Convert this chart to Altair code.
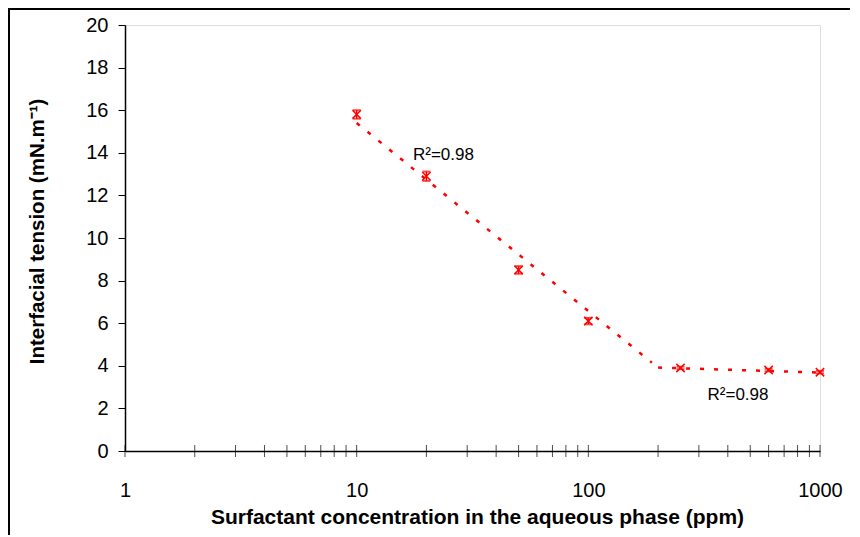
import altair as alt
import pandas as pd

# ---- data ----
conc = [10, 20, 50, 100, 250, 600, 1000]
ift = [15.8, 12.9, 8.5, 6.1, 3.9, 3.8, 3.7]
err = [0.2, 0.22, 0.18, 0.15, 0.06, 0.06, 0.06]

fit1_x = [10, 188]
fit1_y = [15.4, 4.15]
fit2_x = [200, 1000]
fit2_y = [3.92, 3.68]

ann_x = [17.5, 327]
ann_y = [13.66, 2.39]
ann_text = ["R²=0.98", "R²=0.98"]

x_label_values = [1, 10, 100, 1000]
x_tick_values = [1, 2, 3, 4, 5, 6, 7, 8, 9,
                 10, 20, 30, 40, 50, 60, 70, 80, 90,
                 100, 200, 300, 400, 500, 600, 700, 800, 900, 1000]
y_tick_values = [0, 2, 4, 6, 8, 10, 12, 14, 16, 18, 20]

FONT = "Liberation Sans"
RED = "#ff0000"

pts = pd.DataFrame({"conc": conc, "ift": ift, "err": err})
fits = pd.DataFrame({
    "conc": fit1_x + fit2_x,
    "ift": fit1_y + fit2_y,
    "seg": ["a"] * len(fit1_x) + ["b"] * len(fit2_x),
})
ann = pd.DataFrame({"conc": ann_x, "ift": ann_y, "txt": ann_text})
xt = pd.DataFrame({"conc": x_tick_values})

x_scale = alt.Scale(type="log", domain=[1, 1000], nice=False)
y_scale = alt.Scale(domain=[0, 20], nice=False, zero=False)

x_axis = alt.Axis(
    values=x_label_values, format="d", grid=False, ticks=False, tickSize=0,
    labelPadding=45, labelBaseline="alphabetic", labelFlush=False, labelOverlap=False,
    labelFontSize=20, labelColor="black", labelFont=FONT,
    title="Surfactant concentration in the aqueous phase (ppm)",
    titleFont=FONT, titleFontSize=21, titleFontWeight="bold", titleColor="black",
    titleX=352, titleY=72, titleAlign="center", titleBaseline="alphabetic",
    domainColor="black", domainWidth=1.5,
)
y_axis = alt.Axis(
    values=y_tick_values, grid=False, ticks=True, tickSize=7, tickColor="black",
    tickWidth=1, labelPadding=10, labelFontSize=20, labelColor="black", labelFont=FONT,
    labelFlush=False, labelOverlap=False,
    title="Interfacial tension (mN.m⁻¹)",
    titleFont=FONT, titleFontSize=20.5, titleFontWeight="bold", titleColor="black",
    titleX=-88, titleY=206, titleAngle=270, titleAlign="center", titleBaseline="middle",
    domainColor="black", domainWidth=1.5,
)

X = alt.X("conc:Q", scale=x_scale, axis=x_axis)
Y = alt.Y("ift:Q", scale=y_scale, axis=y_axis)

fit_lines = alt.Chart(fits).mark_line(
    color=RED, strokeWidth=2.5, strokeDash=[4, 10], strokeCap="butt"
).encode(x=X, y=Y, detail="seg:N")

base_pts = alt.Chart(pts).transform_calculate(
    lo="datum.ift - datum.err", hi="datum.ift + datum.err"
)

err_rules = base_pts.mark_rule(color=RED, strokeWidth=1.5).encode(
    x=X, y=alt.Y("lo:Q", scale=y_scale, axis=y_axis), y2="hi:Q"
)
cap_lo = base_pts.mark_tick(color=RED, orient="horizontal", size=8, thickness=2).encode(
    x=X, y=alt.Y("lo:Q", scale=y_scale, axis=y_axis)
)
cap_hi = base_pts.mark_tick(color=RED, orient="horizontal", size=8, thickness=2).encode(
    x=X, y=alt.Y("hi:Q", scale=y_scale, axis=y_axis)
)
crosses = alt.Chart(pts).mark_point(
    shape="M-1,-1L1,1M-1,1L1,-1", size=70, filled=False, color=RED, strokeWidth=1.5, opacity=1
).encode(x=X, y=Y)

minor_ticks = alt.Chart(xt).mark_tick(
    color="black", orient="vertical", size=12, thickness=1
).encode(x=X, y=alt.datum(0, scale=y_scale, axis=y_axis))

labels = alt.Chart(ann).mark_text(
    font=FONT, fontSize=17, color="black", align="left", baseline="alphabetic"
).encode(x=X, y=Y, text="txt:N")

frame_left = alt.Chart(xt).mark_rule(color="black", strokeWidth=1.5).encode(
    x=alt.value(-116), y=alt.value(-17), y2=alt.value(530)
)
frame_top = alt.Chart(xt).mark_rule(color="black", strokeWidth=2).encode(
    x=alt.value(-117), x2=alt.value(740), y=alt.value(-16)
)

chart = alt.layer(
    minor_ticks, fit_lines, err_rules, cap_lo, cap_hi, crosses, labels, frame_left, frame_top
).properties(
    width=695, height=426,
    autosize=alt.AutoSizeParams(type="none"),
    padding={"left": 117, "top": 17, "right": 30, "bottom": 84},
).configure_view(
    stroke="#868686", strokeWidth=2
).configure(background="white")

chart.save("out.html", embed_options={"renderer": "svg", "actions": False})
